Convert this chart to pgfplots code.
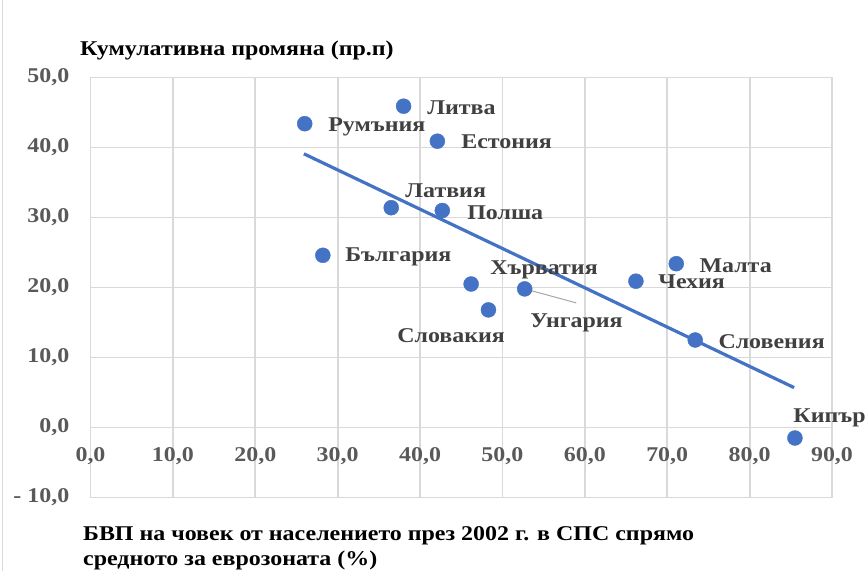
\documentclass[border=0pt]{standalone}
\usepackage{pgfplots}
\pgfplotsset{compat=1.18}
\usepackage{fontspec}
\setmainfont{Liberation Serif}[FakeStretch=1.14]
\definecolor{ptblue}{HTML}{4472C4}
\definecolor{gridg}{HTML}{D9D9D9}
\definecolor{tickg}{HTML}{595959}
\definecolor{labg}{HTML}{404040}
\tikzset{lbl/.style={anchor=west, inner sep=0pt, font=\fontsize{21}{25}\selectfont\bfseries, text=labg}}
\begin{document}
\begin{tikzpicture}[x=1pt,y=1pt]
\path[use as bounding box] (-90.5,-73.5) rectangle (774.5,497.5);
\draw[gridg, line width=1pt] (-87.5,-73.5) -- (-87.5,497.5);
\begin{axis}[
  scale only axis, width=741.5pt, height=420pt,
  xmin=0, xmax=90, ymin=-10, ymax=50,
  axis line style={draw=none},
  major tick length=0pt,
  grid=major, grid style={gridg, line width=1.8pt},
  xtick={0,10,...,90},
  xticklabels={{0,0},{10,0},{20,0},{30,0},{40,0},{50,0},{60,0},{70,0},{80,0},{90,0}},
  ytick={-10,0,...,50},
  yticklabels={{- 10,0},{0,0},{10,0},{20,0},{30,0},{40,0},{50,0}},
  xticklabel style={anchor=north, inner sep=0pt, yshift=50.5pt, font=\fontsize{21}{25}\selectfont\bfseries, text=tickg},
  yticklabel style={anchor=east, inner sep=0pt, xshift=-21pt, font=\fontsize{21}{25}\selectfont\bfseries, text=tickg},
  clip=false,
]
\addplot[gray!70, line width=1pt] coordinates {(52.7,19.8) (58.96,17.8)};
\addplot[ptblue, line width=3.2pt] coordinates {(25.9,39.1) (85.4,5.7)};
\addplot[only marks, mark=*, mark size=7.5pt, mark options={fill=ptblue, draw=ptblue}] coordinates {
(26.0,43.4) (38.0,45.9) (42.1,40.9) (36.5,31.4) (42.7,31.0) (28.2,24.6) (46.2,20.5)
(48.3,16.8) (52.7,19.8) (66.2,20.9) (71.1,23.4) (73.4,12.5) (85.5,-1.5)};
\node[lbl] at (axis cs:28.84,42.99) {Румъния};
\node[lbl] at (axis cs:40.86,45.72) {Литва};
\node[lbl] at (axis cs:44.99,40.86) {Естония};
\node[lbl] at (axis cs:38.19,33.85) {Латвия};
\node[lbl] at (axis cs:45.71,30.70) {Полша};
\node[lbl] at (axis cs:30.90,24.41) {България};
\node[lbl] at (axis cs:48.51,22.55) {Хърватия};
\node[lbl] at (axis cs:37.22,13.10) {Словакия};
\node[lbl] at (axis cs:53.37,14.96) {Унгария};
\node[lbl] at (axis cs:68.91,20.83) {Чехия};
\node[lbl] at (axis cs:73.9,23.1) {Малта};
\node[lbl] at (axis cs:76.2,12.25) {Словения};
\node[lbl] at (axis cs:85.3,1.37) {Кипър};
\end{axis}
\node[anchor=base west, inner sep=0pt, font=\fontsize{21}{25}\selectfont\bfseries] at (-10.5,441.5) {Кумулативна промяна (пр.п)};
\node[anchor=base west, inner sep=0pt, font=\fontsize{21}{25}\selectfont\bfseries] at (-7.5,-42.5) {БВП на човек от населението през 2002 г. в СПС спрямо};
\node[anchor=base west, inner sep=0pt, font=\fontsize{21}{25}\selectfont\bfseries] at (-7.5,-67.5) {средното за еврозоната (\%)};
\end{tikzpicture}
\end{document}
